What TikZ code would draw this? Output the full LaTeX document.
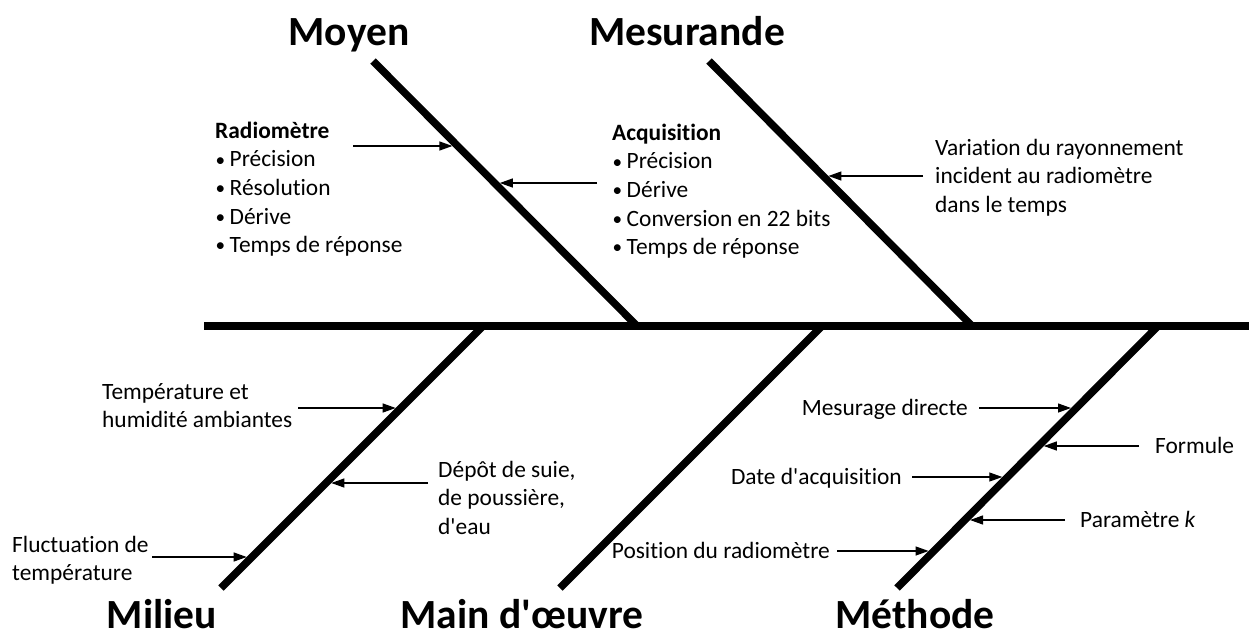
\documentclass[tikz,border=0pt]{standalone}
\usepackage{fontspec}
\setmainfont{Carlito}[Ligatures={TeXOff,CommonOff}]
\usetikzlibrary{arrows.meta}
\newcommand{\itm}{\makebox[14.5pt][l]{\hspace{0.5pt}\raisebox{0.8pt}{\scalebox{0.82}{•}}}}
\newcommand{\firststrut}{\rule{0pt}{18.72pt}}
\tikzset{
  bone/.style={line width=7.5pt},
  cause/.style={line width=1.2pt, -{Triangle[length=13pt,width=9pt]}},
  ttl/.style={font=\fontsize{41.5}{48}\selectfont\bfseries, inner sep=0pt, anchor=base},
  lbl/.style={font=\fontsize{23.4}{28.6}\selectfont, inner sep=0pt, align=left},
  lblnw/.style={lbl, anchor=north west},
  lblw/.style={lbl, anchor=base west},
  lble/.style={lbl, anchor=base east},
}
\begin{document}
\begin{tikzpicture}[x=1pt,y=-1pt]
\useasboundingbox (0,0) rectangle (1249,637);
% spine and bones
\coordinate (spL) at (204,326);
\coordinate (spR) at (1249,326);
\coordinate (moyT) at (373,61);   \coordinate (moyB) at (637,326);
\coordinate (mesT) at (709,61);   \coordinate (mesB) at (972,326);
\coordinate (milB) at (221,588);  \coordinate (milT) at (483,326);
\coordinate (maiB) at (560,588);  \coordinate (maiT) at (822,326);
\coordinate (metB) at (897,588);  \coordinate (metT) at (1158,326);
\draw[bone] (spL) -- (spR);
\draw[bone] (moyT) -- (moyB);
\draw[bone] (mesT) -- (mesB);
\draw[bone] (milB) -- (milT);
\draw[bone] (maiB) -- (maiT);
\draw[bone] (metB) -- (metT);
% titles
\node[ttl] (tMoyen) at (349,45) {Moyen};
\node[ttl] (tMesurande) at (687,45) {Mesurande};
\node[ttl] (tMilieu) at (162,628) {Milieu};
\node[ttl] (tMain) at (522,628) {Main d'œuvre};
\node[ttl] (tMethode) at (915,628) {Méthode};
% labels
\node[lblnw] (radio) at (215,119.3) {\firststrut\textbf{Radiomètre}\\\itm Précision\\\itm Résolution\\\itm Dérive\\\itm Temps de réponse};
\node[lblnw] (acq) at (612,121.3) {\firststrut\textbf{Acquisition}\\\itm Précision\\\itm Dérive\\\itm Conversion en 22 bits\\\itm Temps de réponse};
\node[lblnw] (vari) at (935,136.3) {\firststrut Variation du rayonnement\\incident au radiomètre\\dans le temps};
\node[lblnw] (temp) at (102,380.3) {\firststrut Température et\\humidité ambiantes};
\node[lblnw] (depot) at (438,458.3) {\firststrut Dépôt de suie,\\de poussière,\\d'eau};
\node[lblnw] (fluc) at (12,533.3) {\firststrut Fluctuation de\\température};
\node[lble] (mesu) at (968,415) {Mesurage directe};
\node[lblw] (form) at (1155,453.5) {Formule};
\node[lble] (date) at (902,484) {Date d'acquisition};
\node[lblw] (param) at (1080,527) {Paramètre \textit{k}};
\node[lble] (posi) at (830,558) {Position du radiomètre};
% arrow ends
\coordinate (aRad) at (353,146);   \coordinate (hRad) at (452.4,146);
\coordinate (aAcq) at (597,183);   \coordinate (hAcq) at (499.8,183);
\coordinate (aVar) at (923,176);   \coordinate (hVar) at (828.4,176);
\coordinate (aTem) at (298,408);   \coordinate (hTem) at (395.7,408);
\coordinate (aDep) at (428,483);   \coordinate (hDep) at (331.3,483);
\coordinate (aFlu) at (152,557);   \coordinate (hFlu) at (246.7,557);
\coordinate (aMes) at (979,408);   \coordinate (hMes) at (1071,408);
\coordinate (aFor) at (1139,446);  \coordinate (hFor) at (1043.8,446);
\coordinate (aDat) at (912,477);   \coordinate (hDat) at (1002.3,477);
\coordinate (aPar) at (1065,520);  \coordinate (hPar) at (970,520);
\coordinate (aPos) at (837,551);   \coordinate (hPos) at (928.6,551);
\draw[cause] (aRad) -- (hRad);
\draw[cause] (aAcq) -- (hAcq);
\draw[cause] (aVar) -- (hVar);
\draw[cause] (aTem) -- (hTem);
\draw[cause] (aDep) -- (hDep);
\draw[cause] (aFlu) -- (hFlu);
\draw[cause] (aMes) -- (hMes);
\draw[cause] (aFor) -- (hFor);
\draw[cause] (aDat) -- (hDat);
\draw[cause] (aPar) -- (hPar);
\draw[cause] (aPos) -- (hPos);
\end{tikzpicture}
\end{document}
